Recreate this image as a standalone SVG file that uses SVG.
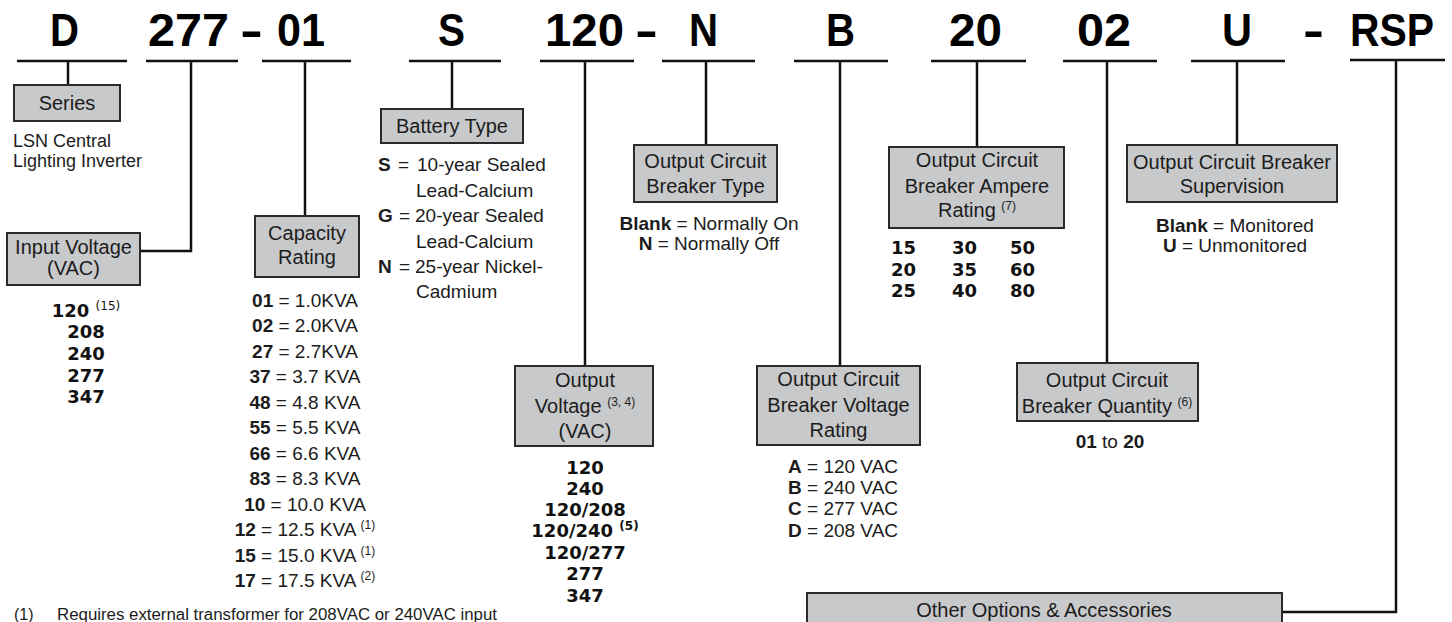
<svg xmlns="http://www.w3.org/2000/svg" width="1452" height="622" viewBox="0 0 1452 622">
<style>
text { font-family: "Liberation Sans", Arial, sans-serif; fill: #1c1c1c; }
.hdr { font-weight: bold; font-size: 47px; fill: #000; }
.lbl { font-size: 20px; text-anchor: middle; }
.txt { font-size: 19px; }
.mid { text-anchor: middle; }
.b { font-weight: bold; }
.num { font-family: "DejaVu Sans", "Liberation Sans", sans-serif; font-weight: bold; font-size: 18px; fill: #111; }
.sup { font-size: 12px; font-weight: normal; }
.box { fill: #c8c9cb; stroke: #2a2a2a; stroke-width: 2; }
.ln { stroke: #111; stroke-width: 2.5; fill: none; }
</style>
<rect width="1452" height="622" fill="#fff"/>

<g id="header">
<text class="hdr" x="50" y="46" textLength="29" lengthAdjust="spacingAndGlyphs">D</text>
<text class="hdr" x="148" y="46" textLength="81" lengthAdjust="spacingAndGlyphs">277</text>
<text class="hdr" x="240" y="46" textLength="23" lengthAdjust="spacingAndGlyphs">-</text>
<text class="hdr" x="277" y="46" textLength="48" lengthAdjust="spacingAndGlyphs">01</text>
<text class="hdr" x="438" y="46" textLength="27" lengthAdjust="spacingAndGlyphs">S</text>
<text class="hdr" x="545" y="46" textLength="79" lengthAdjust="spacingAndGlyphs">120</text>
<text class="hdr" x="635" y="46" textLength="23" lengthAdjust="spacingAndGlyphs">-</text>
<text class="hdr" x="689" y="46" textLength="29" lengthAdjust="spacingAndGlyphs">N</text>
<text class="hdr" x="826" y="46" textLength="29" lengthAdjust="spacingAndGlyphs">B</text>
<text class="hdr" x="949" y="46" textLength="53" lengthAdjust="spacingAndGlyphs">20</text>
<text class="hdr" x="1077" y="46" textLength="54" lengthAdjust="spacingAndGlyphs">02</text>
<text class="hdr" x="1222" y="46" textLength="30" lengthAdjust="spacingAndGlyphs">U</text>
<text class="hdr" x="1303" y="46" textLength="21" lengthAdjust="spacingAndGlyphs">-</text>
<text class="hdr" x="1350" y="46" textLength="84" lengthAdjust="spacingAndGlyphs">RSP</text>
</g>

<g id="connectors" class="ln">
<path d="M17 61 H127 M68 61 V85"/>
<path d="M146 61 H238 M191 61 V251 H140"/>
<path d="M262 61 H351 M305 61 V216"/>
<path d="M409 61 H501 M452 61 V109"/>
<path d="M540 61 H634 M585 61 V366"/>
<path d="M662 61 H755 M706 61 V145"/>
<path d="M794 61 H888 M840 61 V366"/>
<path d="M931 61 H1026 M977 61 V147"/>
<path d="M1063 61 H1157 M1107 61 V363"/>
<path d="M1191 61 H1285 M1237 61 V145"/>
<path d="M1350 60 H1445 M1396 60 V612 H1282"/>
</g>

<g id="series">
<rect class="box" x="14" y="85" width="106" height="36"/>
<text class="lbl" x="67" y="110">Series</text>
<text style="font-size:18px" x="13" y="147">LSN Central</text>
<text style="font-size:18px" x="13" y="167">Lighting Inverter</text>
</g>

<g id="input-voltage">
<rect class="box" x="7" y="233" width="133" height="52"/>
<text class="lbl" x="73.5" y="254">Input Voltage</text>
<text class="lbl" x="73.5" y="275">(VAC)</text>
<text class="num mid" x="86" y="317">120 <tspan class="sup" dy="-7">(15)</tspan></text>
<text class="num mid" x="86" y="338">208</text>
<text class="num mid" x="86" y="360">240</text>
<text class="num mid" x="86" y="382">277</text>
<text class="num mid" x="86" y="403">347</text>
</g>

<g id="capacity">
<rect class="box" x="255" y="216" width="104" height="61"/>
<text class="lbl" x="307" y="240">Capacity</text>
<text class="lbl" x="307" y="264">Rating</text>
<text class="txt mid" x="305" y="307"><tspan class="b">01</tspan> = 1.0KVA</text>
<text class="txt mid" x="305" y="332"><tspan class="b">02</tspan> = 2.0KVA</text>
<text class="txt mid" x="305" y="358"><tspan class="b">27</tspan> = 2.7KVA</text>
<text class="txt mid" x="305" y="383"><tspan class="b">37</tspan> = 3.7 KVA</text>
<text class="txt mid" x="305" y="409"><tspan class="b">48</tspan> = 4.8 KVA</text>
<text class="txt mid" x="305" y="434"><tspan class="b">55</tspan> = 5.5 KVA</text>
<text class="txt mid" x="305" y="460"><tspan class="b">66</tspan> = 6.6 KVA</text>
<text class="txt mid" x="305" y="485"><tspan class="b">83</tspan> = 8.3 KVA</text>
<text class="txt mid" x="305" y="511"><tspan class="b">10</tspan> = 10.0 KVA</text>
<text class="txt mid" x="305" y="536"><tspan class="b">12</tspan> = 12.5 KVA <tspan class="sup" dy="-7">(1)</tspan></text>
<text class="txt mid" x="305" y="562"><tspan class="b">15</tspan> = 15.0 KVA <tspan class="sup" dy="-7">(1)</tspan></text>
<text class="txt mid" x="305" y="587"><tspan class="b">17</tspan> = 17.5 KVA <tspan class="sup" dy="-7">(2)</tspan></text>
</g>

<g id="battery-type">
<rect class="box" x="381" y="109" width="142" height="34"/>
<text class="lbl" x="452" y="133">Battery Type</text>
<text class="txt b" x="378" y="171">S</text><text class="txt" x="398" y="171">=</text><text class="txt" x="417" y="171">10-year Sealed</text>
<text class="txt" x="416" y="197">Lead-Calcium</text>
<text class="txt b" x="378" y="222">G</text><text class="txt" x="399" y="222">=</text><text class="txt" x="415" y="222">20-year Sealed</text>
<text class="txt" x="416" y="248">Lead-Calcium</text>
<text class="txt b" x="378" y="273">N</text><text class="txt" x="399" y="273">=</text><text class="txt" x="415" y="273">25-year Nickel-</text>
<text class="txt" x="416" y="298">Cadmium</text>
</g>

<g id="breaker-type">
<rect class="box" x="634" y="145" width="143" height="57"/>
<text class="lbl" x="705.5" y="168">Output Circuit</text>
<text class="lbl" x="705.5" y="193">Breaker Type</text>
<text class="txt mid" x="709" y="230"><tspan class="b">Blank</tspan> = Normally On</text>
<text class="txt mid" x="709" y="250"><tspan class="b">N</tspan> = Normally Off</text>
</g>

<g id="output-voltage">
<rect class="box" x="515" y="366" width="138" height="80"/>
<text class="lbl" x="585" y="387">Output</text>
<text class="lbl" x="585" y="413">Voltage <tspan class="sup" dy="-7">(3, 4)</tspan></text>
<text class="lbl" x="585" y="438">(VAC)</text>
<text class="num mid" x="585" y="474">120</text>
<text class="num mid" x="585" y="495">240</text>
<text class="num mid" x="585" y="516">120/208</text>
<text class="num mid" x="585" y="537">120/240 <tspan class="sup" style="font-weight:bold" dy="-7">(5)</tspan></text>
<text class="num mid" x="585" y="559">120/277</text>
<text class="num mid" x="585" y="580">277</text>
<text class="num mid" x="585" y="602">347</text>
</g>

<g id="breaker-voltage">
<rect class="box" x="757" y="366" width="163" height="79"/>
<text class="lbl" x="838.5" y="386">Output Circuit</text>
<text class="lbl" x="838.5" y="412">Breaker Voltage</text>
<text class="lbl" x="838.5" y="437">Rating</text>
<text class="txt" x="788" y="473"><tspan class="b">A</tspan> = 120 VAC</text>
<text class="txt" x="788" y="494"><tspan class="b">B</tspan> = 240 VAC</text>
<text class="txt" x="788" y="515"><tspan class="b">C</tspan> = 277 VAC</text>
<text class="txt" x="788" y="537"><tspan class="b">D</tspan> = 208 VAC</text>
</g>

<g id="breaker-ampere">
<rect class="box" x="889" y="147" width="175" height="81"/>
<text class="lbl" x="977" y="167">Output Circuit</text>
<text class="lbl" x="977" y="193">Breaker Ampere</text>
<text class="lbl" x="977" y="217">Rating <tspan class="sup" dy="-7">(7)</tspan></text>
<text class="num" x="891" y="254">15</text><text class="num" x="952" y="254">30</text><text class="num" x="1010" y="254">50</text>
<text class="num" x="891" y="276">20</text><text class="num" x="952" y="276">35</text><text class="num" x="1010" y="276">60</text>
<text class="num" x="891" y="297">25</text><text class="num" x="952" y="297">40</text><text class="num" x="1010" y="297">80</text>
</g>

<g id="breaker-quantity">
<rect class="box" x="1017" y="363" width="181" height="58"/>
<text class="lbl" x="1107" y="387">Output Circuit</text>
<text class="lbl" x="1107" y="413">Breaker Quantity <tspan class="sup" dy="-7">(6)</tspan></text>
<text class="txt mid" x="1110" y="448"><tspan class="b">01</tspan> to <tspan class="b">20</tspan></text>
</g>

<g id="breaker-supervision">
<rect class="box" x="1127" y="145" width="210" height="57"/>
<text class="lbl" x="1232" y="169">Output Circuit Breaker</text>
<text class="lbl" x="1232" y="193">Supervision</text>
<text class="txt mid" x="1235" y="232"><tspan class="b">Blank</tspan> = Monitored</text>
<text class="txt mid" x="1235" y="252"><tspan class="b">U</tspan> = Unmonitored</text>
</g>

<g id="other-options">
<rect class="box" x="807" y="593" width="475" height="50"/>
<text class="lbl" x="1044" y="617">Other Options &amp; Accessories</text>
</g>

<g id="footnote">
<text style="font-size:16px" x="14" y="620">(1)</text>
<text style="font-size:16px" x="57" y="620" textLength="440" lengthAdjust="spacingAndGlyphs">Requires external transformer for 208VAC or 240VAC input</text>
</g>
</svg>
